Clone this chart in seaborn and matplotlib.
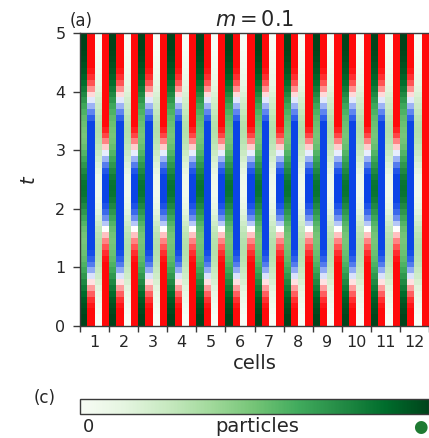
import numpy as np
import pandas as pd
import matplotlib
matplotlib.use("Agg")
import matplotlib.pyplot as plt
from matplotlib.colors import LinearSegmentedColormap, Normalize
from matplotlib.cm import ScalarMappable
import seaborn as sns

# ---------------------------------------------------------------------------
# Data: real-time evolution of a 12-cell staggered lattice (mass m = 0.1).
# Each cell = [site A, link A, site B, link B]; rows are time slices of 0.1.
# ---------------------------------------------------------------------------
n_cells = 12
t_step = 0.1
t_ticks = [0, 1, 2, 3, 4, 5]
cell_labels = [str(i) for i in range(1, n_cells + 1)]
mass = 0.1

# particle density on the first site of every cell
site_a = [1.00, 1.00, 0.98, 0.96, 0.93, 0.88, 0.82, 0.76, 0.70, 0.64,
          0.59, 0.55, 0.52, 0.50, 0.49, 0.50, 0.53, 0.58, 0.64, 0.70,
          0.76, 0.81, 0.84, 0.85, 0.84, 0.81, 0.76, 0.70, 0.64, 0.58,
          0.53, 0.50, 0.49, 0.50, 0.52, 0.55, 0.59, 0.64, 0.70, 0.76,
          0.82, 0.87, 0.91, 0.94, 0.96, 0.98, 0.99, 1.00, 1.00, 1.00]

# particle density on the second site of every cell
site_b = [0.00, 0.00, 0.02, 0.04, 0.07, 0.10, 0.14, 0.18, 0.22, 0.25,
          0.28, 0.30, 0.31, 0.32, 0.31, 0.29, 0.26, 0.22, 0.18, 0.14,
          0.10, 0.07, 0.05, 0.05, 0.06, 0.08, 0.12, 0.16, 0.20, 0.24,
          0.27, 0.30, 0.31, 0.32, 0.31, 0.29, 0.26, 0.23, 0.20, 0.17,
          0.14, 0.11, 0.08, 0.06, 0.04, 0.03, 0.02, 0.01, 0.00, 0.00]

# electric field on the link following site A
link_a = [1.00, 1.00, 1.00, 0.95, 0.85, 0.65, 0.40, 0.12, -0.15, -0.45,
          -0.70, -0.85, -0.95, -1.00, -1.00, -1.00, -1.00, -1.00, -1.00, -1.00,
          -1.00, -1.00, -1.00, -1.00, -1.00, -1.00, -1.00, -1.00, -1.00, -1.00,
          -1.00, -1.00, -1.00, -1.00, -1.00, -0.85, -0.65, -0.40, -0.12, 0.15,
          0.45, 0.70, 0.85, 0.95, 1.00, 1.00, 1.00, 1.00, 1.00, 1.00]

# electric field on the link following site B
link_b = [1.00, 1.00, 1.00, 1.00, 1.00, 1.00, 1.00, 1.00, 1.00, 1.00,
          1.00, 0.95, 0.85, 0.70, 0.50, 0.25, 0.00, -0.30, -0.60, -0.80,
          -0.92, -1.00, -1.00, -1.00, -1.00, -1.00, -0.90, -0.70, -0.40, -0.10,
          0.20, 0.50, 0.75, 0.90, 1.00, 1.00, 1.00, 1.00, 1.00, 1.00,
          1.00, 1.00, 1.00, 1.00, 1.00, 1.00, 1.00, 1.00, 1.00, 1.00]

# field on the closing link at the right end of the chain
edge_field = 1.0

# ---------------------------------------------------------------------------
# Assemble the lattice grids (rows: time, columns: 4 per cell)
# ---------------------------------------------------------------------------
n_rows = len(site_a)
n_cols = 4 * n_cells
density = np.full((n_rows, n_cols), np.nan)
field = np.full((n_rows, n_cols), np.nan)
for c in range(n_cells):
    density[:, 4 * c] = site_a
    field[:, 4 * c + 1] = link_a
    density[:, 4 * c + 2] = site_b
    field[:, 4 * c + 3] = link_b
field[:, -1] = edge_field

density_df = pd.DataFrame(density)
field_df = pd.DataFrame(field)

# ---------------------------------------------------------------------------
# Styling
# ---------------------------------------------------------------------------
sns.set_style("ticks")
plt.rcParams["font.family"] = ["DejaVu Sans"]
plt.rcParams["mathtext.fontset"] = "dejavusans"

field_cmap = LinearSegmentedColormap.from_list(
    "field", ["#0b44e6", "#ffffff", "#ff0a0a"])
spine_col = "#3a3a3a"

W, H = 429, 438
fig = plt.figure(figsize=(W / 100, H / 100), dpi=100)
ax = fig.add_axes([80 / W, 1 - 326 / H, 1 - 80 / W, (326 - 33) / H])

sns.heatmap(field_df, mask=field_df.isna(), cmap=field_cmap, vmin=-1, vmax=1,
            cbar=False, ax=ax, xticklabels=False, yticklabels=False)
sns.heatmap(density_df, mask=density_df.isna(), cmap="Greens", vmin=0, vmax=1,
            cbar=False, ax=ax, xticklabels=False, yticklabels=False)

ax.set_xlim(0, n_cols)
ax.set_ylim(0, n_rows)

# axes frame
for side in ["left", "bottom", "top"]:
    ax.spines[side].set_visible(True)
    ax.spines[side].set_color(spine_col)
    ax.spines[side].set_linewidth(1.0)
ax.spines["right"].set_visible(False)

# x: tick marks on cell borders, labels at cell centres
ax.set_xticks(np.arange(0, n_cols + 1, 4))
ax.set_xticklabels([])
ax.set_xticks(np.arange(2, n_cols, 4), minor=True)
ax.set_xticklabels(cell_labels, minor=True)
ax.tick_params(axis="x", which="major", length=4.5, width=1.0,
               color=spine_col, direction="out")
ax.tick_params(axis="x", which="minor", length=0, pad=6.5, labelsize=11.5)

# y: time axis
ax.set_yticks([t / t_step for t in t_ticks])
ax.set_yticklabels([str(t) for t in t_ticks], rotation=0)
ax.tick_params(axis="y", length=5, width=1.0, color=spine_col, pad=5.5,
               labelsize=11.5, direction="out")

ax.set_xlabel("cells", fontsize=14)
ax.xaxis.set_label_coords(0.5, -0.097)
ax.set_ylabel("$t$", fontsize=14, rotation=90)
ax.yaxis.set_label_coords(-0.118, 0.5)
ax.set_title(f"$m = {mass}$", fontsize=15, pad=5)

fig.text(81 / W, 1 - 21 / H, "(a)", ha="center", va="center", fontsize=12)

# ---------------------------------------------------------------------------
# Particle-density colour scale
# ---------------------------------------------------------------------------
cax = fig.add_axes([80 / W, 1 - 414 / H, 1 - 80 / W, 15 / H])
cb = fig.colorbar(ScalarMappable(norm=Normalize(0, 1), cmap="Greens"),
                  cax=cax, orientation="horizontal")
cb.set_ticks([])
cb.outline.set_edgecolor(spine_col)
cb.outline.set_linewidth(1.0)

fig.text(45 / W, 1 - 398 / H, "(c)", ha="center", va="center", fontsize=12)
fig.text(88 / W, 1 - 427 / H, "0", ha="center", va="center", fontsize=13)
fig.text(257 / W, 1 - 427 / H, "particles", ha="center", va="center",
         fontsize=14)
fig.text(420 / W, 1 - 427 / H, "\u25CF", ha="center", va="center",
         fontsize=12, color="#1e7a32")

fig.savefig("out.png", dpi=100)
